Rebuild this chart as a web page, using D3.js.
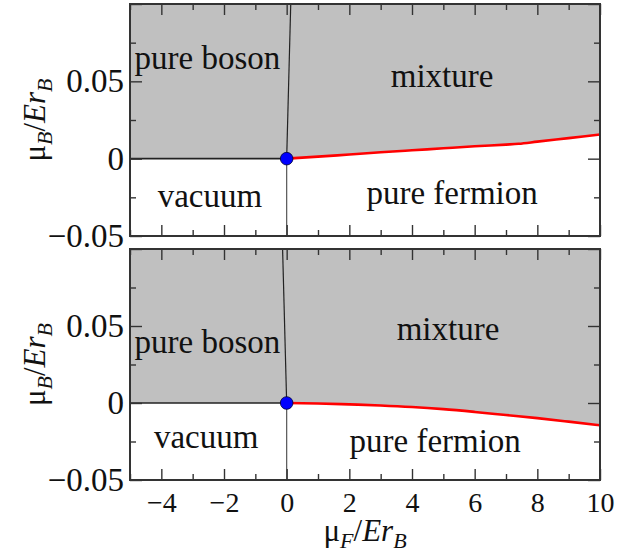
<!DOCTYPE html>
<html lang="en">
<head>
<meta charset="UTF-8">
<title>phase diagram</title>
<script src="https://d3js.org/d3.v7.min.js"></script>
<style>
    body { margin: 0; background: #fff; }
    svg { display: block; font-family: 'Liberation Serif', 'Times New Roman', serif; }
    .tick line { stroke: #333; stroke-width: 1.4px; }
    .tick text { font-family: 'Liberation Serif', 'Times New Roman', serif; }
    .domain { display: none; }
    .frame { fill: none; stroke: #333; stroke-width: 2px; }
    .region { font-size: 33px; fill: #111; }
    .ylab .tick text { font-size: 33px; fill: #111; }
    .xlab .tick text { font-size: 28px; fill: #111; }
    .title { font-size: 31px; fill: #111; }
</style>
</head>
<body>
<script>
// axis setup
var xDomain = [-5, 10];
var yDomain = [-0.05, 0.1];
var xMajorTicks = [-4, -2, 0, 2, 4, 6, 8, 10];
var xMinorTicks = [-5, -3, -1, 1, 3, 5, 7, 9];
var yMajorTicks = [-0.05, 0, 0.05, 0.1];
var yMinorTicks = [-0.025, 0.025, 0.075];
var yLabelled = [-0.05, 0, 0.05];

// boundaries, [muF, muB]
var topFermionEdge = [[0, 0], [1, 0.0013], [2, 0.0027], [3, 0.0041], [4, 0.0054], [5, 0.0067],
    [6, 0.008], [7, 0.0091], [7.4, 0.0096], [8, 0.011], [9, 0.0133], [10, 0.0156]];
var bottomFermionEdge = [[0, 0], [1, -0.0003], [2, -0.0009], [3, -0.0016], [4, -0.0026], [5, -0.004],
    [6, -0.0058], [7, -0.0078], [8, -0.0098], [9, -0.0121], [10, -0.0145]];
var topBosonEdge = [[0, 0], [0.13, 0.1]];
var bottomBosonEdge = [[0, 0], [-0.13, 0.1]];
var vacuumBosonEdge = [[-5, 0], [0, 0]];
var vacuumFermionEdge = [[0, -0.05], [0, 0]];
var tricritical = [0, 0];

// region names and where they sit (data units, baseline)
var regionNames = ["pure boson", "mixture", "vacuum", "pure fermion"];
var topLabelSpots = [[-2.53, 0.058], [4.96, 0.0464], [-2.45, -0.0312], [5.28, -0.0293]];
var bottomLabelSpots = [[-2.53, 0.0325], [5.15, 0.0409], [-2.57, -0.0292], [4.74, -0.0318]];

var W = 619, H = 560;
var left = 130, right = 600;

var svg = d3.select("body").append("svg")
    .attr("width", W)
    .attr("height", H);

var x = d3.scaleLinear().domain(xDomain).range([left, right]);

var panels = [
    {top: 4, bottom: 236, edge: topFermionEdge, boson: topBosonEdge, spots: topLabelSpots, xlabels: false},
    {top: 249, bottom: 480, edge: bottomFermionEdge, boson: bottomBosonEdge, spots: bottomLabelSpots, xlabels: true}
];

function fmtY(d) {
    if (yLabelled.indexOf(d) < 0) return "";
    if (d === 0) return "0";
    return d3.format(".2f")(d).replace("-", "\u2212");
}

panels.forEach(function(p) {
    var y = d3.scaleLinear().domain(yDomain).range([p.bottom, p.top]);
    var g = svg.append("g");

    // grey fill above the boundary
    var boundary = vacuumBosonEdge.concat(p.edge.slice(1));
    g.append("path")
        .datum(boundary)
        .attr("fill", "#c0c0c0")
        .attr("d", d3.area()
            .x(function(d) { return x(d[0]); })
            .y0(p.top)
            .y1(function(d) { return y(d[1]); }));

    var line = d3.line()
        .x(function(d) { return x(d[0]); })
        .y(function(d) { return y(d[1]); });

    g.append("path").datum(vacuumFermionEdge)
        .attr("d", line).attr("fill", "none")
        .attr("stroke", "#555").attr("stroke-width", 1.2);
    g.append("path").datum(p.boson)
        .attr("d", line).attr("fill", "none")
        .attr("stroke", "#222").attr("stroke-width", 1.2);
    g.append("path").datum(vacuumBosonEdge)
        .attr("d", line).attr("fill", "none")
        .attr("stroke", "#222").attr("stroke-width", 1.6);
    g.append("path").datum(p.edge)
        .attr("d", d3.line().curve(d3.curveMonotoneX)
            .x(function(d) { return x(d[0]); })
            .y(function(d) { return y(d[1]); }))
        .attr("fill", "none")
        .attr("stroke", "#ff0000").attr("stroke-width", 2.6);

    g.append("circle")
        .attr("cx", x(tricritical[0]))
        .attr("cy", y(tricritical[1]))
        .attr("r", 6.3)
        .attr("fill", "#0000ff")
        .attr("stroke", "#000033")
        .attr("stroke-width", 0.8);

    // region names
    g.selectAll("text.region")
        .data(regionNames)
        .enter().append("text")
        .attr("class", "region")
        .attr("text-anchor", "middle")
        .attr("x", function(d, i) { return x(p.spots[i][0]); })
        .attr("y", function(d, i) { return y(p.spots[i][1]); })
        .text(function(d) { return d; });

    // ticks, pointing inward on all four sides
    g.append("g").attr("class", "xlab")
        .attr("transform", "translate(0," + p.bottom + ")")
        .call(d3.axisBottom(x).tickValues(xMajorTicks).tickSize(-11).tickPadding(12)
            .tickFormat(function(d) { return p.xlabels ? String(d).replace("-", "\u2212") : ""; }));
    g.append("g")
        .attr("transform", "translate(0," + p.bottom + ")")
        .call(d3.axisBottom(x).tickValues(xMinorTicks).tickSize(-6).tickFormat(""));
    g.append("g")
        .attr("transform", "translate(0," + p.top + ")")
        .call(d3.axisTop(x).tickValues(xMajorTicks).tickSize(-11).tickFormat(""));
    g.append("g")
        .attr("transform", "translate(0," + p.top + ")")
        .call(d3.axisTop(x).tickValues(xMinorTicks).tickSize(-6).tickFormat(""));

    g.append("g").attr("class", "ylab")
        .attr("transform", "translate(" + left + ",0)")
        .call(d3.axisLeft(y).tickValues(yMajorTicks).tickSize(-12).tickPadding(6).tickFormat(fmtY));
    g.append("g")
        .attr("transform", "translate(" + left + ",0)")
        .call(d3.axisLeft(y).tickValues(yMinorTicks).tickSize(-6).tickFormat(""));
    g.append("g")
        .attr("transform", "translate(" + right + ",0)")
        .call(d3.axisRight(y).tickValues(yMajorTicks).tickSize(-12).tickFormat(""));
    g.append("g")
        .attr("transform", "translate(" + right + ",0)")
        .call(d3.axisRight(y).tickValues(yMinorTicks).tickSize(-6).tickFormat(""));

    g.append("rect").attr("class", "frame")
        .attr("x", left).attr("y", p.top)
        .attr("width", right - left).attr("height", p.bottom - p.top);

    // y title
    var cy = (p.top + p.bottom) / 2;
    var t = g.append("text").attr("class", "title")
        .attr("text-anchor", "middle")
        .attr("transform", "translate(45," + cy + ") rotate(-90)");
    t.append("tspan").text("\u03bc");
    t.append("tspan").attr("font-size", "22px").attr("font-style", "italic").attr("dy", 7).text("B");
    t.append("tspan").attr("dy", -7).text("/");
    t.append("tspan").attr("font-style", "italic").text("Er");
    t.append("tspan").attr("font-size", "22px").attr("font-style", "italic").attr("dy", 7).text("B");
});

// x title
var xt = svg.append("text").attr("class", "title")
    .attr("text-anchor", "middle")
    .attr("x", (left + right) / 2)
    .attr("y", 541);
xt.append("tspan").text("\u03bc");
xt.append("tspan").attr("font-size", "22px").attr("font-style", "italic").attr("dy", 7).text("F");
xt.append("tspan").attr("dy", -7).text("/");
xt.append("tspan").attr("font-style", "italic").text("Er");
xt.append("tspan").attr("font-size", "22px").attr("font-style", "italic").attr("dy", 7).text("B");
</script>
</body>
</html>
